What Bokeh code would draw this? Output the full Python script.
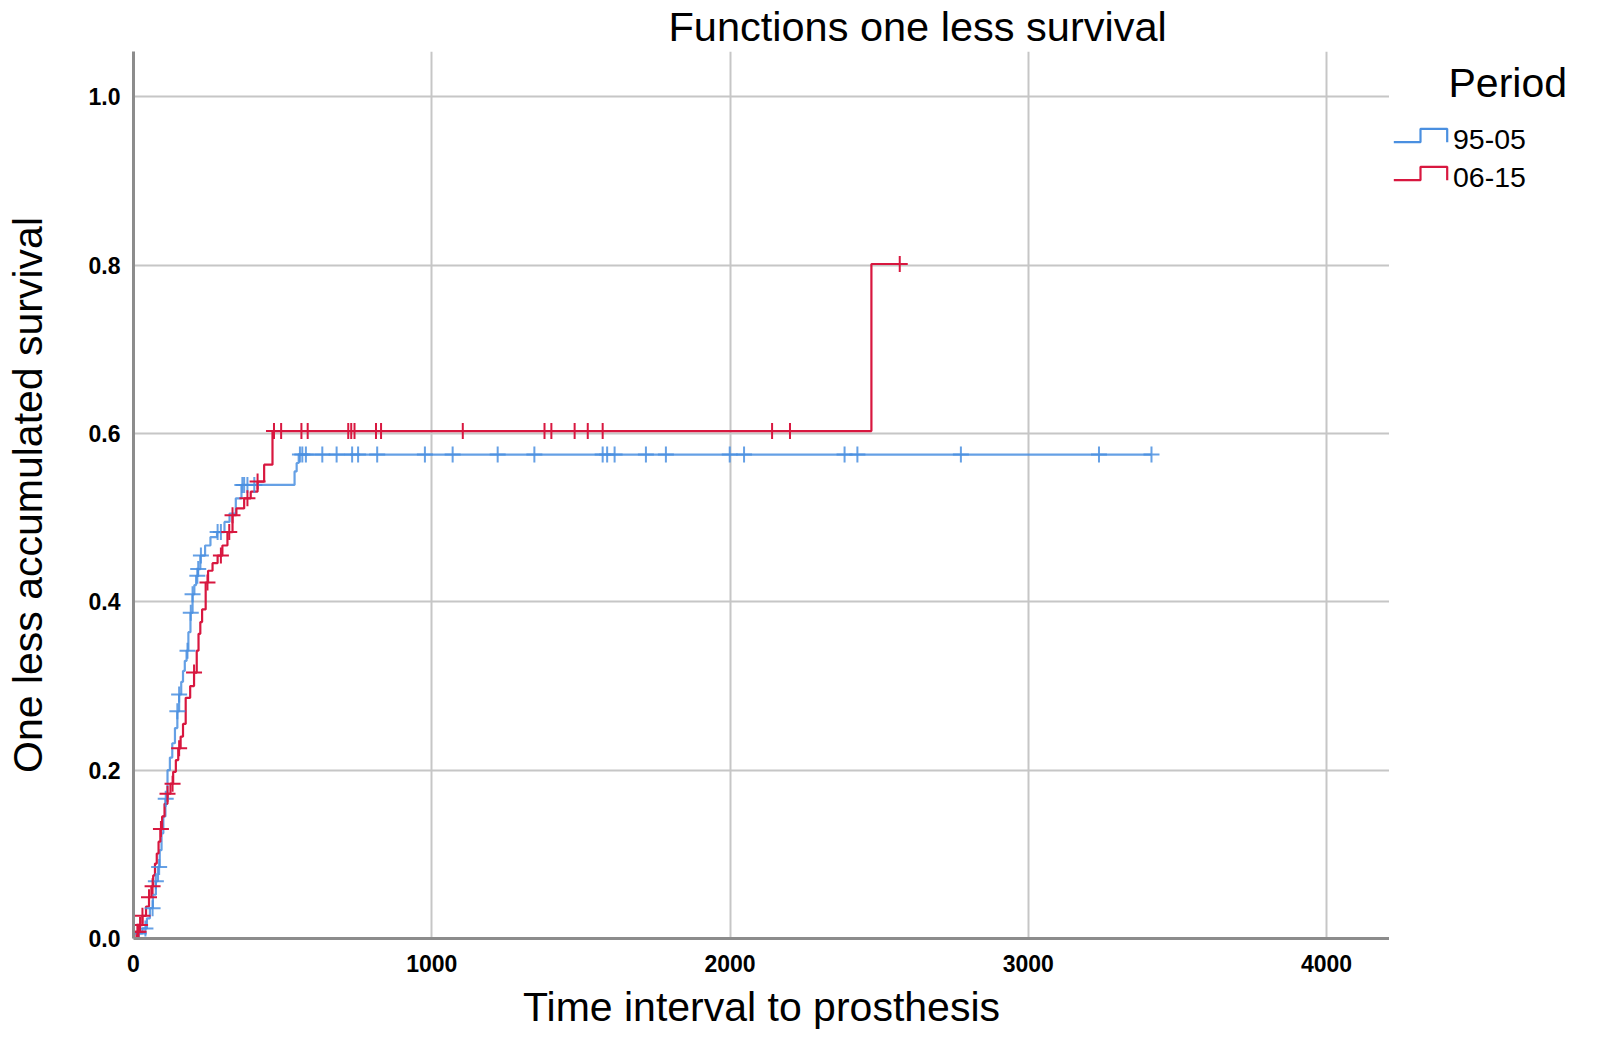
import numpy as np
from bokeh.plotting import figure
from bokeh.layouts import row
from bokeh.models import Range1d, FixedTicker, NumeralTickFormatter
from bokeh.core.properties import value
from bokeh.embed import file_html
from bokeh.resources import INLINE

# ---------------- data ----------------
title_text = "Functions one less survival"
x_label = "Time interval to prosthesis"
y_label = "One less accumulated survival"
legend_title = "Period"
series_names = ["95-05", "06-15"]

x_ticks = [0, 1000, 2000, 3000, 4000]
y_ticks = [0.0, 0.2, 0.4, 0.6, 0.8, 1.0]

# 95-05 : event times and cumulative "one less survival" after each event
blue_event_t = [15, 30, 45, 55, 65, 75, 82, 88, 94, 100,
                107, 114, 122, 130, 139, 147, 153, 160, 166, 172,
                178, 184, 191, 198, 204, 210, 216, 224, 240, 258,
                280, 305, 322, 343, 362, 540, 547, 554]
blue_event_s = [0.006, 0.012, 0.024, 0.036, 0.052, 0.068, 0.085, 0.105, 0.125, 0.145,
                0.166, 0.200, 0.215, 0.232, 0.250, 0.270, 0.290, 0.305, 0.318, 0.330,
                0.342, 0.364, 0.387, 0.409, 0.420, 0.431, 0.439, 0.455, 0.467, 0.477,
                0.483, 0.495, 0.505, 0.523, 0.539, 0.555, 0.565, 0.575]
blue_censor_t = [18, 40, 64, 75, 86, 108, 147, 153, 181, 192, 198, 214, 217, 226,
                 282, 293, 365, 371, 382, 405, 558, 566, 578, 633, 681, 733, 753,
                 817, 977, 1070, 1221, 1344, 1573, 1588, 1613, 1718, 1785, 1999,
                 2047, 2384, 2427, 2774, 3237, 3413]

# 06-15
red_event_t = [10, 20, 30, 42, 52, 60, 66, 72, 78, 84,
               90, 96, 104, 114, 124, 133, 142, 150, 158, 166,
               175, 190, 203, 212, 218, 224, 230, 242, 250, 265,
               282, 298, 315, 332, 345, 371, 393, 416, 438, 466,
               2474]
red_event_s = [0.008, 0.016, 0.027, 0.038, 0.049, 0.062, 0.075, 0.089, 0.101, 0.115,
               0.130, 0.145, 0.160, 0.172, 0.184, 0.198, 0.212, 0.226, 0.240, 0.255,
               0.286, 0.300, 0.316, 0.342, 0.362, 0.376, 0.391, 0.423, 0.437, 0.446,
               0.455, 0.467, 0.483, 0.503, 0.511, 0.523, 0.531, 0.543, 0.563, 0.603,
               0.8015]
red_censor_t = [13, 17, 22, 30, 52, 64, 92, 114, 131, 153, 203, 248, 293, 321, 332,
                382, 416, 471, 495, 563, 584, 720, 730, 741, 813, 830, 1104, 1378,
                1401, 1479, 1523, 1573, 2141, 2201, 2569]

BLUE = "#4A8FE0"
RED = "#D8173F"
FONT = "Liberation Sans"


def step_xy(ev_t, ev_s, cens_t):
    end = max(max(cens_t), ev_t[-1])
    xs = [0] + list(ev_t) + [end]
    ys = [0.0] + list(ev_s) + [ev_s[-1]]
    return xs, ys


def censor_y(ev_t, ev_s, cens_t):
    idx = np.searchsorted(np.array(ev_t), np.array(cens_t), side="right") - 1
    s = np.array([0.0] + list(ev_s))
    return s[idx + 1]


H = 1033
WM = 1389          # main figure width (frame ends at its right edge)
WL = 208           # legend panel width
LEFT, TOP = 133, 51
FRAME_BOTTOM = 938
BOTTOM = H - FRAME_BOTTOM

p = figure(width=WM, height=H, output_backend="svg", toolbar_location=None,
           x_range=Range1d(0, 4211), y_range=Range1d(0, 1.054),
           min_border_left=LEFT, min_border_right=0,
           min_border_top=TOP, min_border_bottom=BOTTOM)
p.outline_line_color = None
p.background_fill_color = "white"
p.border_fill_color = "white"

p.title.text = title_text
p.title.align = "left"
p.title.vertical_align = "top"
p.title.offset = 535
p.title.text_font = FONT
p.title.text_font_size = "41.5px"
p.title.text_font_style = "normal"
p.title.text_color = "black"
p.title.standoff = 0
p.title.text_line_height = 0.8

# grid
p.xgrid.ticker = FixedTicker(ticks=x_ticks)
p.ygrid.ticker = FixedTicker(ticks=y_ticks)
for g in (p.xgrid, p.ygrid):
    g.grid_line_color = "#C6C6C6"
    g.grid_line_width = 2

# axes
for ax in (p.xaxis, p.yaxis):
    ax.axis_line_color = "#8C8C8C"
    ax.axis_line_width = 3
    ax.major_tick_line_color = None
    ax.minor_tick_line_color = None
    ax.major_label_text_font = FONT
    ax.major_label_text_font_style = "bold"
    ax.major_label_text_font_size = "23px"
    ax.major_label_text_color = "black"
    ax.axis_label_text_font = FONT
    ax.axis_label_text_font_style = "normal"
    ax.axis_label_text_font_size = "41px"
    ax.axis_label_text_color = "black"
p.xaxis.ticker = FixedTicker(ticks=x_ticks)
p.yaxis.ticker = FixedTicker(ticks=y_ticks)
p.yaxis.formatter = NumeralTickFormatter(format="0.0")
p.xaxis.axis_label = x_label
p.yaxis.axis_label = y_label
p.xaxis.major_label_standoff = 10
p.yaxis.major_label_standoff = 7
p.xaxis.axis_label_standoff = 9
p.yaxis.axis_label_standoff = 35

# curves
bx, by = step_xy(blue_event_t, blue_event_s, blue_censor_t)
rx, ry = step_xy(red_event_t, red_event_s, red_censor_t)
p.step(bx, by, mode="after", line_color=BLUE, line_width=2.2, line_alpha=0.85)
p.step(rx, ry, mode="after", line_color=RED, line_width=2.2)

p.scatter(blue_censor_t, censor_y(blue_event_t, blue_event_s, blue_censor_t),
          marker="cross", size=16, line_color=BLUE, line_width=2, line_alpha=0.85)
p.scatter(red_censor_t, censor_y(red_event_t, red_event_s, red_censor_t),
          marker="cross", size=16, line_color=RED, line_width=2)

# ---------------- legend panel (pixel coordinates, y downwards) ----------------
# its frame is aligned with the main frame (rows TOP .. FRAME_BOTTOM)
lg = figure(width=WL, height=H, output_backend="svg", toolbar_location=None,
            x_range=Range1d(0, WL), y_range=Range1d(FRAME_BOTTOM, TOP),
            min_border=0, min_border_left=0, min_border_right=0,
            min_border_top=TOP, min_border_bottom=BOTTOM)
lg.axis.visible = False
lg.grid.visible = False
lg.outline_line_color = None
lg.background_fill_color = "white"
lg.border_fill_color = "white"

lg.text(x=[59], y=[82], text=[legend_title], text_font=value(FONT),
        text_font_size="41px", text_baseline="middle", text_align="left",
        text_color="black")
for i, (name, col) in enumerate(zip(series_names, [BLUE, RED])):
    cy = 139 + i * 38
    lg.text(x=[63.5], y=[cy], text=[name], text_font=value(FONT),
            text_font_size="28.5px", text_baseline="middle", text_align="left",
            text_color="black")
    lo = cy + 2.7
    hi = lo - 13.4
    lg.line(x=[4.3, 31, 31, 57.7, 57.7], y=[lo, lo, hi, hi, lo],
            line_color=col, line_width=2.2)

layout = row(p, lg, spacing=0)
open("out.html", "w").write(file_html(layout, INLINE))
